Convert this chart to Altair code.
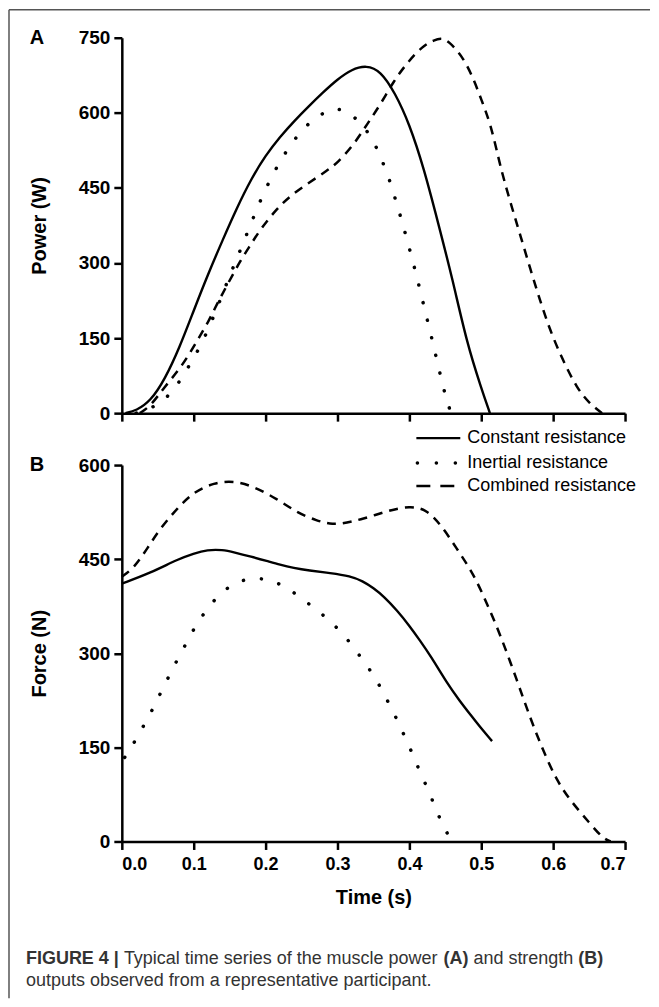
import altair as alt
import pandas as pd

FONT = "Liberation Sans"
SERIES = ["Constant resistance", "Inertial resistance", "Combined resistance"]
X_TICKS = [0.0, 0.1, 0.2, 0.3, 0.4, 0.5, 0.6, 0.7]
POWER_TICKS = [0, 150, 300, 450, 600, 750]
FORCE_TICKS = [0, 150, 300, 450, 600]

# ---- Panel A: power (W) ----
pa_const_t = [0.005, 0.02, 0.04, 0.06, 0.08, 0.10, 0.12, 0.14, 0.16, 0.18, 0.20, 0.22, 0.24, 0.26,
              0.28, 0.30, 0.32, 0.34, 0.36, 0.38, 0.40, 0.42, 0.44, 0.46, 0.48, 0.50, 0.512]
pa_const_v = [0, 5, 24, 68, 130, 205, 278, 345, 410, 468, 515, 552, 584, 613,
              641, 667, 687, 695, 684, 640, 578, 490, 380, 268, 140, 50, 0]

pa_inert_t = [0.02, 0.031, 0.052, 0.072, 0.09, 0.11, 0.13, 0.15, 0.17, 0.19, 0.21, 0.23, 0.25, 0.27,
              0.29, 0.30, 0.314, 0.334, 0.35, 0.36, 0.37, 0.38, 0.39, 0.40, 0.41, 0.42, 0.43, 0.44,
              0.45, 0.458]
pa_inert_v = [0, 4, 18, 44, 86, 134, 200, 275, 343, 417, 478, 527, 565, 592,
              606, 608, 603, 578, 545, 511, 477, 430, 382, 329, 275, 215, 157, 95,
              34, 0]

pa_comb_t = [0.025, 0.04, 0.058, 0.084, 0.105, 0.121, 0.133, 0.147, 0.165, 0.18, 0.193, 0.216, 0.235,
             0.262, 0.286, 0.30, 0.323, 0.341, 0.36, 0.378, 0.397, 0.418, 0.435, 0.445, 0.454,
             0.474, 0.489, 0.501, 0.513, 0.524, 0.531, 0.543, 0.554, 0.568, 0.582, 0.596, 0.614,
             0.633, 0.65, 0.668]
pa_comb_v = [0, 14, 50, 94, 145, 184, 220, 257, 305, 338, 368, 409, 435,
             462, 485, 500, 537, 577, 617, 663, 700, 733, 746, 749, 744,
             713, 669, 623, 577, 509, 469, 409, 357, 289, 224, 164, 104,
             50, 20, 0]

# ---- Panel B: force (N) ----
pb_const_t = [0.0, 0.04, 0.078, 0.10, 0.119, 0.14, 0.156, 0.18, 0.202, 0.22, 0.239, 0.26, 0.29,
              0.318, 0.335, 0.35, 0.365, 0.383, 0.40, 0.415, 0.43, 0.452, 0.47, 0.485, 0.50, 0.515]
pb_const_v = [411, 428, 450, 459, 465, 465, 461, 454, 447, 441, 436, 432, 428,
              423, 415, 404, 390, 368, 344, 320, 295, 253, 224, 202, 180, 160]

pb_inert_t = [0.004, 0.018, 0.032, 0.044, 0.056, 0.068, 0.08, 0.093, 0.105, 0.12, 0.136, 0.159,
              0.185, 0.21, 0.232, 0.253, 0.275, 0.294, 0.312, 0.329, 0.345, 0.359, 0.371, 0.383,
              0.394, 0.405, 0.415, 0.426, 0.436, 0.446, 0.458]
pb_inert_v = [134, 159, 188, 213, 242, 269, 296, 323, 349, 372, 395, 414,
              421, 416, 403, 385, 366, 347, 325, 299, 274, 248, 221, 194,
              166, 138, 110, 83, 54, 27, 2]

pb_comb_t = [0.0, 0.017, 0.036, 0.054, 0.078, 0.10, 0.128, 0.156, 0.183, 0.216, 0.244, 0.272, 0.29,
             0.304, 0.336, 0.369, 0.401, 0.425, 0.447, 0.468, 0.489, 0.508, 0.526, 0.55, 0.568,
             0.586, 0.605, 0.624, 0.651, 0.669, 0.68]
pb_comb_v = [422, 436, 468, 500, 532, 557, 572, 575, 566, 546, 524, 511, 506,
             506, 514, 527, 535, 529, 500, 463, 427, 379, 331, 256, 197,
             145, 97, 65, 29, 5, 0]

CAPTION_LINE1 = [("FIGURE 4 |", "bold"), (" Typical time series of the muscle power ", "normal"),
                 ("(A)", "bold"), (" and strength ", "normal"), ("(B)", "bold")]
CAPTION_LINE2 = "outputs observed from a representative participant."


def series_frame(ts, vs, name):
    return pd.DataFrame({"t": ts, "v": vs, "series": name})


df_a = pd.concat([series_frame(pa_const_t, pa_const_v, SERIES[0]),
                  series_frame(pa_inert_t, pa_inert_v, SERIES[1]),
                  series_frame(pa_comb_t, pa_comb_v, SERIES[2])], ignore_index=True)
df_b = pd.concat([series_frame(pb_const_t, pb_const_v, SERIES[0]),
                  series_frame(pb_inert_t, pb_inert_v, SERIES[1]),
                  series_frame(pb_comb_t, pb_comb_v, SERIES[2])], ignore_index=True)

ONE = pd.DataFrame({"k": [0]})

STYLE = {
    SERIES[0]: dict(strokeWidth=2.4, strokeCap="butt"),
    SERIES[1]: dict(strokeWidth=3.5, strokeDash=[0.1, 18], strokeCap="round"),
    SERIES[2]: dict(strokeWidth=2.5, strokeDash=[9, 7], strokeCap="butt"),
}

AXIS_COMMON = dict(domainColor="black", domainWidth=2.5, tickColor="black", tickWidth=2.5,
                   tickSize=8, labelFont=FONT, labelFontWeight="bold",
                   labelColor="black", titleFont=FONT, titleFontSize=20, titleFontWeight="bold",
                   titleColor="black", grid=False)


def build_panel(df, ymax, yticks, ytitle, letter, height, show_x, extra):
    xaxis = alt.Axis(values=X_TICKS, format=".1f", labels=show_x, labelFontSize=18, labelPadding=6,
                     title="Time (s)" if show_x else "", titlePadding=14, **AXIS_COMMON)
    yaxis = alt.Axis(values=yticks, title=ytitle, labelFontSize=19, labelPadding=4,
                     titlePadding=29, **AXIS_COMMON)
    layers = []
    for s in SERIES:
        layers.append(
            alt.Chart(df).transform_filter(alt.datum.series == s)
            .mark_line(color="black", interpolate="basis", **STYLE[s])
            .encode(x=alt.X("t:Q", scale=alt.Scale(domain=[0, 0.7], nice=False, zero=False), axis=xaxis),
                    y=alt.Y("v:Q", scale=alt.Scale(domain=[0, ymax], nice=False), axis=yaxis))
        )
    layers.append(
        alt.Chart(ONE).mark_text(font=FONT, fontSize=20, fontWeight="bold", align="center",
                                 baseline="middle", color="black")
        .encode(x=alt.value(-85), y=alt.value(0), text=alt.value(letter))
    )
    layers.extend(extra)
    return alt.layer(*layers).properties(width=504, height=height)


# frame lines (top and left border of the figure box)
frame_layers = [
    alt.Chart(ONE).mark_rule(color="#555555", strokeWidth=1.5)
    .encode(x=alt.value(-113), x2=alt.value(529), y=alt.value(-28)),
    alt.Chart(ONE).mark_rule(color="#555555", strokeWidth=1.5)
    .encode(x=alt.value(-113), y=alt.value(-28), y2=alt.value(962)),
]

# manual legend in panel B coordinates
LEGEND_ROWS_Y = [-27, -2, 21]
LEGEND_SYMBOL = {
    SERIES[0]: dict(x1=295, x2=339, style=dict(strokeWidth=2.4)),
    SERIES[1]: dict(x1=296, x2=336, style=dict(strokeWidth=3.5, strokeDash=[0.1, 18.9], strokeCap="round")),
    SERIES[2]: dict(x1=295, x2=334, style=dict(strokeWidth=2.5, strokeDash=[14, 10])),
}
legend_layers = []
for s, yy in zip(SERIES, LEGEND_ROWS_Y):
    spec = LEGEND_SYMBOL[s]
    legend_layers.append(
        alt.Chart(ONE).mark_rule(color="black", **spec["style"])
        .encode(x=alt.value(spec["x1"]), x2=alt.value(spec["x2"]), y=alt.value(yy))
    )
    legend_layers.append(
        alt.Chart(ONE).mark_text(font=FONT, fontSize=18, align="left", baseline="middle", color="black")
        .encode(x=alt.value(346), y=alt.value(yy), text=alt.value(s))
    )

# caption (Helvetica/Arial advance widths per 1000 em)
W_REG = {" ": 278, "a": 556, "b": 556, "c": 500, "d": 556, "e": 556, "f": 278, "g": 556, "h": 556,
         "i": 222, "l": 222, "m": 833, "n": 556, "o": 556, "p": 556, "r": 333, "s": 500, "t": 278,
         "u": 556, "v": 500, "w": 722, "y": 500, "T": 611, ".": 278}
W_BOLD = {" ": 278, "F": 611, "I": 278, "G": 778, "U": 722, "R": 722, "E": 667, "4": 556, "|": 280,
          "(": 333, ")": 333, "A": 722, "B": 722}
CAP_SIZE = 18
CAP_X0 = -96
CAP_Y1 = 500
CAP_Y2 = 522
CAP_COLOR = "#333333"

caption_layers = []
cursor = 0.0
for txt, weight in CAPTION_LINE1:
    table = W_BOLD if weight == "bold" else W_REG
    lead = len(txt) - len(txt.lstrip(" "))
    xpos = CAP_X0 + (cursor + lead * 278) * CAP_SIZE / 1000.0
    caption_layers.append(
        alt.Chart(ONE).mark_text(font=FONT, fontSize=CAP_SIZE, fontWeight=weight, align="left",
                                 baseline="alphabetic", color=CAP_COLOR)
        .encode(x=alt.value(xpos), y=alt.value(CAP_Y1), text=alt.value(txt.strip(" ")))
    )
    cursor += sum(table.get(c, 556) for c in txt)
caption_layers.append(
    alt.Chart(ONE).mark_text(font=FONT, fontSize=CAP_SIZE, align="left", baseline="alphabetic",
                             color=CAP_COLOR)
    .encode(x=alt.value(CAP_X0), y=alt.value(CAP_Y2), text=alt.value(CAPTION_LINE2))
)

panel_a = build_panel(df_a, 750, POWER_TICKS, "Power (W)", "A", 376, False, frame_layers)
panel_b = build_panel(df_b, 600, FORCE_TICKS, "Force (N)", "B", 377, True,
                      legend_layers + caption_layers)

chart = (
    alt.vconcat(panel_a, panel_b, spacing=52, bounds="flush")
    .properties(padding=0, background="white")
    .configure_view(strokeWidth=0)
)

chart.save("out.html", embed_options={"renderer": "svg", "actions": False})
